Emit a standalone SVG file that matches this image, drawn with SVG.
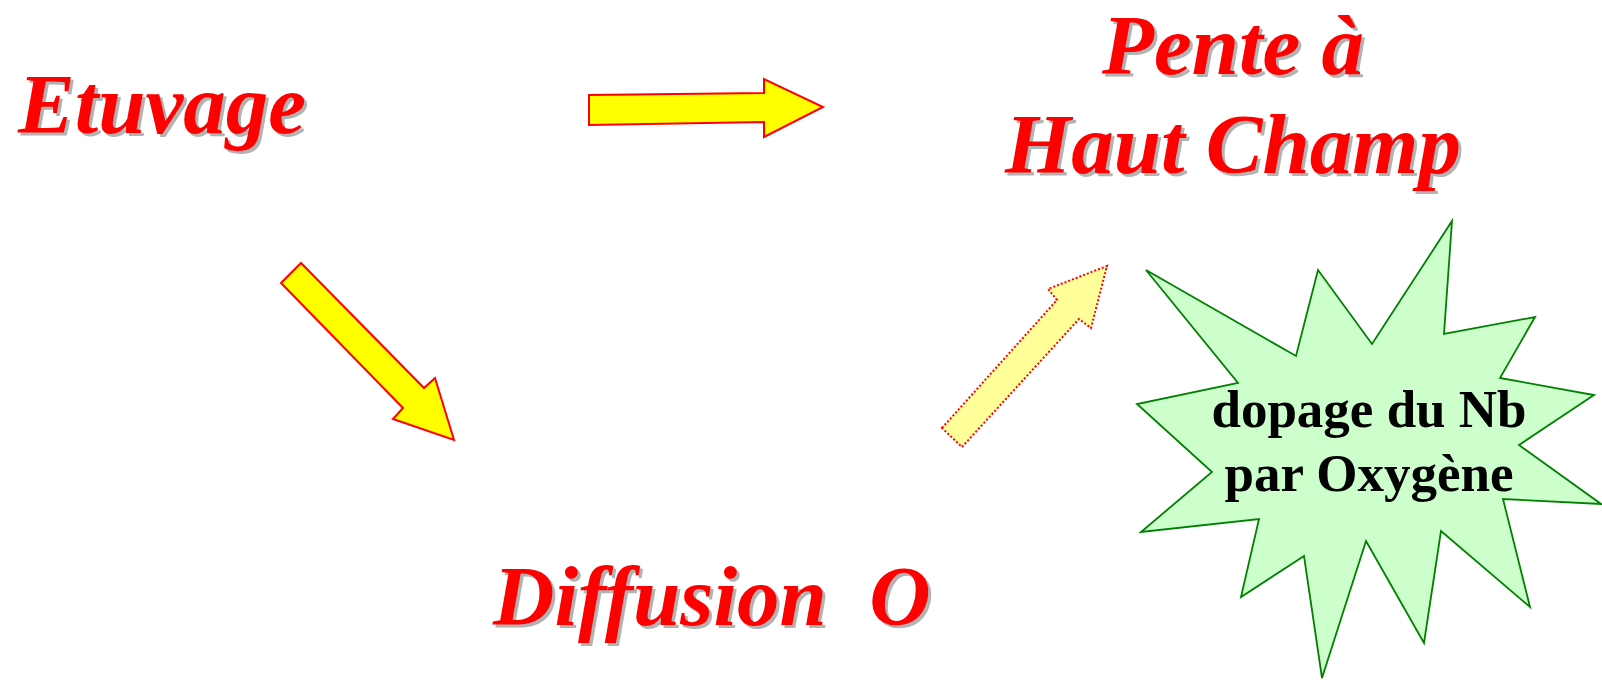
<svg xmlns="http://www.w3.org/2000/svg" width="1602" height="680" viewBox="0 0 1602 680">
<style>
.t{font-family:"Liberation Serif","Times New Roman",serif;font-weight:bold;font-style:italic;font-size:85px;white-space:pre}
.sh{fill:#b3b3b3}
.fg{fill:#ff0000}
.arrow{fill:#ffff00;stroke:#ff0000;stroke-width:2;stroke-linejoin:miter}
.arrowd{fill:#ffff99;stroke:#ff0000;stroke-width:2;stroke-dasharray:2 2}
.burst{fill:#ccffcc;stroke:#008000;stroke-width:1.8;stroke-linejoin:miter}
.bt{font-family:"Liberation Serif","Times New Roman",serif;font-weight:bold;font-size:53px;fill:#000000;text-anchor:middle}
</style>
<rect width="1602" height="680" fill="#ffffff"/>
<g id="etuvage">
<text class="t sh" x="21" y="136">Etuvage</text>
<text class="t fg" x="18" y="133">Etuvage</text>
</g>
<g id="pente">
<text class="t sh" x="1236" y="77" text-anchor="middle">Pente à</text>
<text class="t fg" x="1233" y="74" text-anchor="middle">Pente à</text>
<text class="t sh" x="1236" y="176" text-anchor="middle">Haut Champ</text>
<text class="t fg" x="1233" y="173" text-anchor="middle">Haut Champ</text>
</g>
<g id="diffusion">
<text class="t sh" x="496" y="628" xml:space="preserve">Diffusion  O</text>
<text class="t fg" x="493" y="625" xml:space="preserve">Diffusion  O</text>
</g>
<g id="dopage">
<polygon class="burst" points="1146,270 1296,356 1318,270 1372,344 1452,221 1444,334 1535,317 1500,378 1594,395 1519,445 1601,504 1503,499 1530,607 1441,531 1424,643 1366,541 1322,678 1304,556 1241,597 1259,519 1141,532 1212,472 1137,404 1238,383"/>
<text class="bt" x="1369" y="427">dopage du Nb</text>
<text class="bt" x="1369" y="491">par Oxygène</text>
</g>
<g id="connectors">
<polygon class="arrow" points="589,95 764,93 764,79 823,107 764,137 764,122 589,125"/>
<polygon class="arrow" points="301,263 424,388 435,378 454,440 393,419 403,408 281,283"/>
<polygon class="arrowd" points="942,428 1057,300 1048,289 1107,266 1091,328 1079,319 962,447"/>
</g>
</svg>
